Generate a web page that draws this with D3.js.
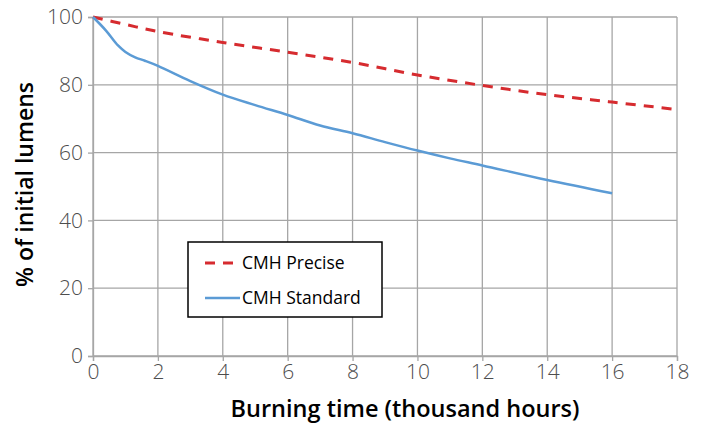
<!DOCTYPE html>
<html>
<head>
<meta charset="utf-8">
<script src="https://cdn.jsdelivr.net/npm/d3@7"></script>
<style>
  body { margin: 0; background: #fff; }
  .tick text { font-family: "Open Sans", sans-serif; font-weight: 300; }
</style>
</head>
<body>
<div id="chart"></div>
<script>
// Data
var xTicks = [0, 2, 4, 6, 8, 10, 12, 14, 16, 18];
var yTicks = [0, 20, 40, 60, 80, 100];

var preciseHours = [0, 1, 2, 4, 6, 8, 10, 12, 14, 16, 18];
var preciseValues = [100, 97.8, 95.7, 92.5, 89.6, 86.6, 82.9, 79.8, 77.1, 74.9, 72.7];

var standardHours = [0, 0.4, 0.77, 1, 1.3, 1.6, 2, 3, 4, 5, 6, 7, 8, 9, 10, 11, 12, 14, 16];
var standardValues = [100, 96, 91.6, 89.7, 88.1, 87.1, 85.6, 81.1, 77.1, 74.0, 71.1, 68.0, 65.7, 63.1, 60.6, 58.3, 56.2, 51.9, 48.0];

var series = [
  { name: "CMH Precise", x: preciseHours, y: preciseValues, color: "#d62b2f", dash: "10,8", width: 3 },
  { name: "CMH Standard", x: standardHours, y: standardValues, color: "#5b9bd5", dash: null, width: 2.5 }
];

// Size and margins
var margin = { top: 17, right: 28, bottom: 72, left: 93 },
    width = 705 - margin.left - margin.right,
    height = 428 - margin.top - margin.bottom;

var svg = d3.select("#chart").append("svg")
    .attr("width", width + margin.left + margin.right)
    .attr("height", height + margin.top + margin.bottom)
    .append("g")
    .attr("transform", "translate(" + margin.left + "," + margin.top + ")");

var x = d3.scaleLinear().domain([0, 18]).range([0, width]);
var y = d3.scaleLinear().domain([0, 100]).range([height, 0]);

var gridColor = "#a6a6a6";

// Grid lines
svg.append("g")
    .selectAll("line")
    .data(xTicks)
    .enter().append("line")
    .attr("x1", function (d) { return x(d); })
    .attr("x2", function (d) { return x(d); })
    .attr("y1", 0)
    .attr("y2", height)
    .style("stroke", gridColor)
    .style("stroke-width", 1.3);

svg.append("g")
    .selectAll("line")
    .data(yTicks)
    .enter().append("line")
    .attr("x1", 0)
    .attr("x2", width)
    .attr("y1", function (d) { return y(d); })
    .attr("y2", function (d) { return y(d); })
    .style("stroke", gridColor)
    .style("stroke-width", 1.3);

// Axes
var xAxis = svg.append("g")
    .attr("transform", "translate(0," + height + ")")
    .call(d3.axisBottom(x).tickValues(xTicks).tickSize(5).tickPadding(3));

var yAxis = svg.append("g")
    .call(d3.axisLeft(y).tickValues(yTicks).tickSize(5).tickPadding(5));

[xAxis, yAxis].forEach(function (a) {
    a.select(".domain").style("stroke", gridColor).style("stroke-width", 1.3);
    a.selectAll(".tick line").style("stroke", gridColor).style("stroke-width", 1.3);
    a.selectAll(".tick text")
        .style("font-size", "21px")
        .style("fill", "#4d4d4d");
});

// Lines
var line = d3.line()
    .curve(d3.curveCatmullRom.alpha(0.5))
    .x(function (d) { return x(d[0]); })
    .y(function (d) { return y(d[1]); });

series.forEach(function (s) {
    svg.append("path")
        .datum(d3.zip(s.x, s.y))
        .attr("fill", "none")
        .attr("stroke", s.color)
        .attr("stroke-width", s.width)
        .attr("stroke-dasharray", s.dash)
        .attr("d", line);
});

// Legend
var legend = svg.append("g")
    .attr("transform", "translate(" + (188 - margin.left) + "," + (242 - margin.top) + ")");

legend.append("rect")
    .attr("width", 194)
    .attr("height", 75)
    .attr("fill", "#fff")
    .attr("stroke", "#000")
    .attr("stroke-width", 1.5);

var items = legend.selectAll(".item")
    .data(series)
    .enter().append("g")
    .attr("transform", function (d, i) { return "translate(0," + (21 + i * 35) + ")"; });

items.append("line")
    .attr("x1", 17)
    .attr("x2", 52)
    .attr("stroke", function (d) { return d.color; })
    .attr("stroke-width", function (d) { return d.width; })
    .attr("stroke-dasharray", function (d) { return d.dash; });

items.append("text")
    .attr("x", 54)
    .attr("dy", ".35em")
    .style("font-family", "'Open Sans', sans-serif")
    .style("font-size", "17.5px")
    .style("fill", "#000")
    .text(function (d) { return d.name; });

// Axis titles
svg.append("text")
    .attr("x", width / 2 + 20)
    .attr("y", height + 61)
    .attr("text-anchor", "middle")
    .style("font-family", "'Open Sans', sans-serif")
    .style("font-weight", 600)
    .style("font-size", "23.5px")
    .text("Burning time (thousand hours)");

svg.append("text")
    .attr("transform", "rotate(-90)")
    .attr("x", -(height / 2) + 2)
    .attr("y", -60)
    .attr("text-anchor", "middle")
    .style("font-family", "'Open Sans', sans-serif")
    .style("font-weight", 600)
    .style("font-size", "23px")
    .text("% of initial lumens");
</script>
</body>
</html>
